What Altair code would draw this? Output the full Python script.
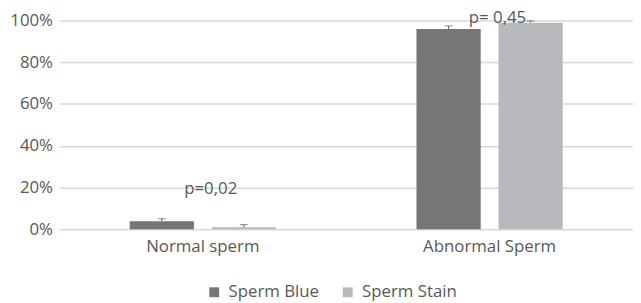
import altair as alt
import pandas as pd

categories = ["Normal sperm", "Abnormal Sperm"]
series = ["Sperm Blue", "Sperm Stain"]
blue_vals = [0.038, 0.96]
stain_vals = [0.01, 0.99]
blue_err = [0.012, 0.014]
stain_err = [0.012, 0.008]
p_labels = ["p=0,02", "p= 0,45"]
p_pos = [0.17, 0.99]

rows = []
for i, c in enumerate(categories):
    rows.append({"cat": c, "series": series[0], "v": blue_vals[i], "hi": blue_vals[i] + blue_err[i]})
    rows.append({"cat": c, "series": series[1], "v": stain_vals[i], "hi": stain_vals[i] + stain_err[i]})
df = pd.DataFrame(rows)
ann = pd.DataFrame({"cat": categories, "label": p_labels, "y": p_pos})

FONT = "Open Sans"
TXT = "#595959"
FS = 17

xs = alt.X("cat:N", sort=categories, title=None,
           scale=alt.Scale(paddingInner=0.49, paddingOuter=0.245),
           axis=alt.Axis(labelAngle=0, domain=False, ticks=False, labelPadding=10,
                         labelFont=FONT, labelFontSize=FS, labelColor=TXT))
xo = alt.XOffset("series:N", sort=series, scale=alt.Scale(paddingInner=0.217, paddingOuter=0))

bars = alt.Chart(df).mark_bar().encode(
    x=xs, xOffset=xo,
    y=alt.Y("v:Q", title=None, scale=alt.Scale(domain=[0, 1]),
            axis=alt.Axis(format="%", values=[0, 0.2, 0.4, 0.6, 0.8, 1.0], domain=False, ticks=False,
                          labelPadding=7, labelFont=FONT, labelFontSize=FS, labelColor=TXT,
                          gridColor="#d9d9d9", gridWidth=1.5)),
    color=alt.Color("series:N", sort=series, title=None,
                    scale=alt.Scale(domain=series, range=["#767679", "#b8b9bc"]),
                    legend=alt.Legend(orient="none", direction="horizontal", legendX=148, legendY=266,
                                      symbolType="square", symbolSize=100, symbolStrokeWidth=0,
                                      labelFont=FONT, labelFontSize=FS, labelColor=TXT,
                                      columnPadding=20, labelOffset=6)),
)

err = alt.Chart(df).mark_rule(color="#595959", strokeWidth=1).encode(
    x=alt.X("cat:N", sort=categories), xOffset=xo, y="v:Q", y2="hi:Q")
cap = alt.Chart(df).mark_tick(color="#595959", thickness=1, size=8, orient="horizontal").encode(
    x=alt.X("cat:N", sort=categories), xOffset=xo, y="hi:Q")

txt = alt.Chart(ann).mark_text(font=FONT, fontSize=FS, color=TXT, dx=8, baseline="alphabetic").encode(
    x=alt.X("cat:N", sort=categories), y="y:Q", text="label:N")

chart = alt.layer(bars, err, cap, txt).properties(
    width=580, height=211,
    autosize=alt.AutoSizeParams(type="none"),
    padding={"left": 52, "top": 11, "right": 0, "bottom": 80},
).configure_view(stroke=None)

chart.save("out.html", embed_options={"renderer": "svg", "actions": False})
